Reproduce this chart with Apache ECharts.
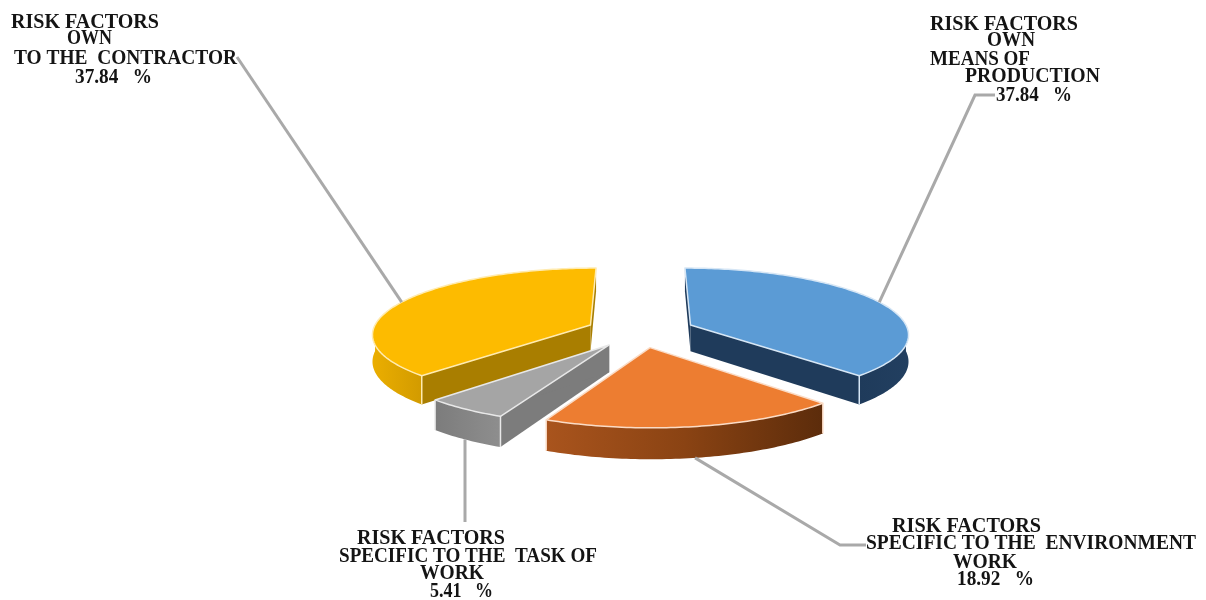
<!DOCTYPE html>
<html>
<head>
<meta charset="utf-8">
<style>html,body{margin:0;padding:0;background:#fff}#chart{width:1206px;height:600px}</style>
<script src="https://cdn.jsdelivr.net/npm/echarts@6/dist/echarts.min.js"></script>
</head>
<body>
<div id="chart"></div>
<script>
// Risk factor shares, clockwise from twelve o'clock
const shares = [37.84, 18.92, 5.41, 37.84];
const categoryLines = [
  ['RISK FACTORS', 'OWN', 'MEANS OF', 'PRODUCTION'],
  ['RISK FACTORS', 'SPECIFIC TO THE  ENVIRONMENT', 'WORK'],
  ['RISK FACTORS', 'SPECIFIC TO THE  TASK OF', 'WORK'],
  ['RISK FACTORS', 'OWN', 'TO THE  CONTRACTOR']
];

// Slice colours: top face, radial wall, outer wall gradient (left to right), edge highlight
const topColors = ['#5B9BD5', '#ED7D31', '#A5A5A5', '#FDBB00'];
const radialColors = ['#1F3B5B', '#8A4415', '#7C7C7C', '#A97E00'];
const outerColors = [
  ['#1F3B5B', '#223F60'],
  ['#A9541D', '#8A4313', '#5C2C0B'],
  ['#7C7C7C', '#8E8E8E'],
  ['#EBAE00', '#D29B00']
];
const edgeColors = ['#D6E6F5', '#FBDCC6', '#E8E8E8', '#FFEBB0'];

// Back slices are painted first so nearer walls overlap them
const drawOrder = [0, 3, 2, 1];

// Projection of the tilted, exploded pie
const cx = 640.5, cy = 331, radiusX = 218, radiusY = 65.5;
const perspective = 0.126, explode = 0.25, wallHeight = 26.5;

// Label text lines: left edge, fitted width, vertical middle
const labelBoxes = [
  [[930, 148, 24.5], [987, 48, 40.5], [930, 100, 59.5], [965, 135, 76.5], [996, 76, 95.5]],
  [[892, 149, 526.5], [866, 330, 543.5], [953, 64, 562.5], [957, 77, 579.5]],
  [[357, 148, 538.5], [339, 258, 556.5], [420, 64, 573.5], [430, 63, 591.5]],
  [[11, 148, 22.5], [67, 45, 38.5], [14, 223, 58.5], [75, 77, 77.5]]
];
// Leader line bends outward from the slice, ending at the label
const leaderBends = [
  [[975, 95], [995, 95]],
  [[840, 545], [866, 545]],
  [[465, 522]],
  [[237, 57]]
];

const total = shares.reduce((a, b) => a + b, 0);
const slices = [];
shares.reduce((acc, v) => {
  const start = acc / total * Math.PI * 2;
  const end = (acc + v) / total * Math.PI * 2;
  slices.push({ start, end, mid: (start + end) / 2 });
  return acc + v;
}, 0);

const measure = document.createElement('canvas').getContext('2d');
const labelFont = 'bold 20px "Liberation Serif"';

function project(slice, angle, r, drop) {
  const wu = r * Math.sin(angle) + explode * Math.sin(slice.mid);
  const wv = r * Math.cos(angle) + explode * Math.cos(slice.mid);
  const s = 1 / (1 + perspective * wv);
  return [cx + radiusX * wu * s, cy - radiusY * wv * s + drop * wallHeight * s];
}

function arcPoints(slice, from, to, drop) {
  const pts = [];
  const steps = Math.max(2, Math.ceil(Math.abs(to - from) / (Math.PI / 180)));
  for (let k = 0; k <= steps; k++) {
    pts.push(project(slice, from + (to - from) * k / steps, 1, drop));
  }
  return pts;
}

function radialWall(slice, angle, fill) {
  return {
    type: 'polygon',
    shape: { points: [project(slice, 0, 0, 0), project(slice, angle, 1, 0), project(slice, angle, 1, 1), project(slice, 0, 0, 1)] },
    style: { fill }
  };
}

function renderSlice(params, api) {
  const i = api.value(0);
  const slice = slices[i];
  const children = [];
  const edge = edgeColors[i];

  children.push(radialWall(slice, slice.start, radialColors[i]));
  children.push(radialWall(slice, slice.end, radialColors[i]));

  // Only the part of the rim that faces the viewer gets a visible outer wall
  const wallFrom = Math.max(slice.start, Math.PI / 2);
  const wallTo = Math.min(slice.end, Math.PI * 1.5);
  if (wallTo > wallFrom) {
    const upper = arcPoints(slice, wallFrom, wallTo, 0);
    const lower = arcPoints(slice, wallFrom, wallTo, 1).reverse();
    const stops = outerColors[i];
    children.push({
      type: 'polygon',
      shape: { points: upper.concat(lower) },
      style: {
        fill: new echarts.graphic.LinearGradient(0, 0, 1, 0,
          stops.map((c, k) => ({ offset: k / (stops.length - 1), color: c })))
      }
    });
  }

  // Bright seams at the front wall corners
  [slice.start, slice.end].forEach((a) => {
    if (a > Math.PI / 2 && a < Math.PI * 1.5) {
      const p = project(slice, a, 1, 0);
      const q = project(slice, a, 1, 1);
      children.push({
        type: 'line',
        shape: { x1: p[0], y1: p[1], x2: q[0], y2: q[1] },
        style: { stroke: edge, lineWidth: 1.5 }
      });
    }
  });

  children.push({
    type: 'polygon',
    shape: { points: [project(slice, 0, 0, 0)].concat(arcPoints(slice, slice.start, slice.end, 0)) },
    style: { fill: topColors[i], stroke: edge, lineWidth: 1.5, lineJoin: 'round' }
  });

  // Leader line from the middle of the rim to the label
  const front = Math.cos(slice.mid) < 0;
  const anchor = project(slice, slice.mid, 1, front ? 1 : 0);
  children.push({
    type: 'polyline',
    shape: { points: [anchor].concat(leaderBends[i]) },
    style: { stroke: '#A9A9A9', lineWidth: 3, fill: null }
  });

  // Label text, each line fitted to its box
  const lines = categoryLines[i].concat([shares[i].toFixed(2) + '   %']);
  measure.font = labelFont;
  lines.forEach((text, k) => {
    const box = labelBoxes[i][k];
    children.push({
      type: 'text',
      x: box[0],
      y: box[2],
      scaleX: box[1] / measure.measureText(text).width,
      style: { x: 0, y: 0, text, font: labelFont, fill: '#141414', align: 'left', verticalAlign: 'middle' }
    });
  });

  return { type: 'group', children };
}

const chart = echarts.init(document.getElementById('chart'), null, { renderer: 'canvas' });
chart.setOption({
  backgroundColor: '#ffffff',
  animation: false,
  series: [{
    type: 'custom',
    coordinateSystem: 'none',
    silent: true,
    renderItem: renderSlice,
    data: drawOrder.map((i) => [i, shares[i]])
  }]
});
</script>
</body>
</html>
